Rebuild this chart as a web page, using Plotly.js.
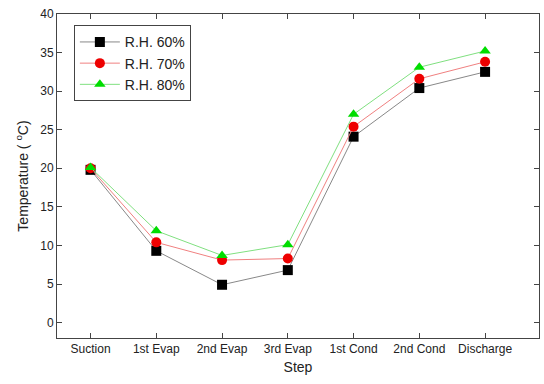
<!DOCTYPE html>
<html><head><meta charset="utf-8">
<script src="https://cdn.plot.ly/plotly-3.0.1.min.js"></script>
<style>html,body{margin:0;padding:0;background:#fff}#c{width:544px;height:384px}</style>
</head><body><div id="c"></div>
<script>
const steps = ["Suction","1st Evap","2nd Evap","3rd Evap","1st Cond","2nd Cond","Discharge"];
const rh60 = [19.8, 9.3, 4.9, 6.8, 24.1, 30.4, 32.5];
const rh70 = [20.0, 10.4, 8.1, 8.3, 25.4, 31.6, 33.8];
const rh80 = [20.1, 11.9, 8.7, 10.1, 27.0, 33.1, 35.2];
const idx = steps.map((s,i)=>i);
function tr(name, y, sym, mc, lc){
  return {x: idx, y: y, name: name, type:'scatter', mode:'lines+markers',
    line:{color:lc, width:1}, marker:{symbol:sym, size:10, color:mc}};
}
const data = [
  tr('R.H. 60%', rh60, 'square', '#000000', '#888888'),
  tr('R.H. 70%', rh70, 'circle', '#ee0000', '#f08080'),
  tr('R.H. 80%', rh80, 'triangle-up', '#00dd00', '#80e080')
];
const layout = {
  width:544, height:384, margin:{l:57, r:5, t:14, b:46},
  paper_bgcolor:'#fff', plot_bgcolor:'#fff',
  font:{family:'Liberation Sans, Arial, sans-serif', color:'#222'},
  showlegend:true,
  legend:{x:0.035, y:0.965, xanchor:'left', yanchor:'top', bordercolor:'#444', borderwidth:1,
    bgcolor:'#fff', font:{size:14}, tracegroupgap:0, itemwidth:40},
  xaxis:{range:[-0.51, 6.82], tickvals: idx, ticktext: steps, showgrid:false, zeroline:false,
    ticks:'inside', ticklen:5, tickcolor:'#444', mirror:'ticks', showline:true, linecolor:'#444', linewidth:1,
    tickfont:{size:12}, title:{text:'Step', font:{size:14}, standoff:6}},
  yaxis:{range:[-2, 40], tickvals:[0,5,10,15,20,25,30,35,40], showgrid:false, zeroline:false,
    ticks:'inside', ticklen:5, tickcolor:'#444', mirror:'ticks', showline:true, linecolor:'#444', linewidth:1,
    tickfont:{size:12}, title:{text:'Temperature ( <sup>o</sup>C)', font:{size:14}, standoff:8}}
};
Plotly.newPlot('c', data, layout, {displayModeBar:false, staticPlot:true});
</script></body></html>
